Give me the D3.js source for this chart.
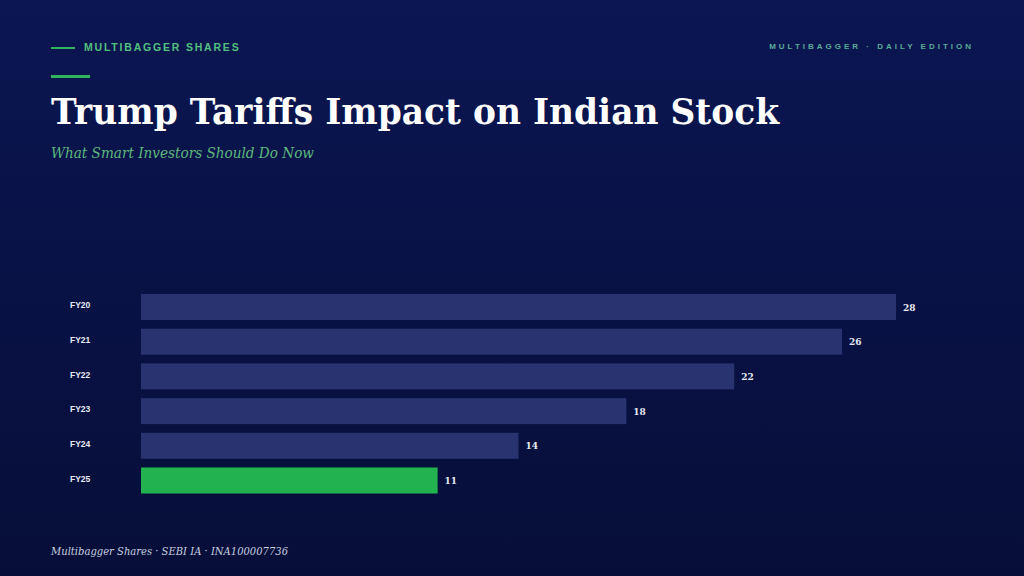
<!DOCTYPE html>
<html lang="en">
<head>
<meta charset="UTF-8">
<title>Trump Tariffs Impact on Indian Stock</title>
<script src="https://d3js.org/d3.v7.min.js"></script>
<style>
  html, body { margin: 0; padding: 0; background: #08113f; }
  svg { display: block; }
</style>
</head>
<body>
<div id="chart"></div>
<script>
const years = ["FY20", "FY21", "FY22", "FY23", "FY24", "FY25"];
const values = [28, 26, 22, 18, 14, 11];
const highlight = "FY25";

const width = 1024, height = 576;

const svg = d3.select("#chart").append("svg")
  .attr("width", width)
  .attr("height", height);

// background gradient
const grad = svg.append("defs").append("linearGradient")
  .attr("id", "bg").attr("x1", 0).attr("y1", 0).attr("x2", 0).attr("y2", 1);
grad.append("stop").attr("offset", "0%").attr("stop-color", "#0b1652");
grad.append("stop").attr("offset", "100%").attr("stop-color", "#060e38");
svg.append("rect").attr("width", width).attr("height", height).attr("fill", "url(#bg)");

// header
svg.append("line")
  .attr("x1", 51).attr("x2", 75).attr("y1", 48).attr("y2", 48)
  .attr("stroke", "#2fb35c").attr("stroke-width", 2);
svg.append("text")
  .attr("x", 84).attr("y", 51)
  .attr("font-family", "Liberation Sans, Arial, sans-serif")
  .attr("font-weight", "bold").attr("font-size", 10.5)
  .attr("letter-spacing", 1.8)
  .attr("fill", "#52c07e")
  .text("MULTIBAGGER SHARES");

svg.append("text")
  .attr("x", 974).attr("y", 49).attr("text-anchor", "end")
  .attr("font-family", "Liberation Sans, Arial, sans-serif")
  .attr("font-weight", "bold").attr("font-size", 8)
  .attr("letter-spacing", 3)
  .attr("fill", "#5aab98")
  .text("MULTIBAGGER · DAILY EDITION");

svg.append("line")
  .attr("x1", 51).attr("x2", 90).attr("y1", 76.5).attr("y2", 76.5)
  .attr("stroke", "#2fb35c").attr("stroke-width", 3);

// title
svg.append("text")
  .attr("x", 51).attr("y", 124)
  .attr("font-family", "DejaVu Serif, Georgia, serif")
  .attr("font-weight", "bold").attr("font-size", 35)
  .attr("fill", "#ffffff")
  .attr("textLength", 728).attr("lengthAdjust", "spacingAndGlyphs")
  .text("Trump Tariffs Impact on Indian Stock");

svg.append("text")
  .attr("x", 51).attr("y", 158)
  .attr("font-family", "DejaVu Serif, Georgia, serif")
  .attr("font-style", "italic").attr("font-size", 14.5)
  .attr("fill", "#5cb97c")
  .attr("textLength", 263).attr("lengthAdjust", "spacingAndGlyphs")
  .text("What Smart Investors Should Do Now");

// bars
const x = d3.scaleLinear().domain([0, 28]).range([141, 896]);
const y = d3.scaleBand().domain(years).range([294, 493.5]).paddingInner(0.25).paddingOuter(0);

const data = years.map((yr, i) => ({ year: yr, value: values[i] }));

svg.selectAll(".bar")
  .data(data)
  .join("rect")
  .attr("class", "bar")
  .attr("x", x(0))
  .attr("y", d => y(d.year))
  .attr("width", d => x(d.value) - x(0))
  .attr("height", y.bandwidth())
  .attr("fill", d => d.year === highlight ? "#22b350" : "#283370");

svg.selectAll(".yl")
  .data(data)
  .join("text")
  .attr("class", "yl")
  .attr("x", 70)
  .attr("y", d => y(d.year) + y.bandwidth() / 2 - 1)
  .attr("dominant-baseline", "middle")
  .attr("font-family", "Liberation Sans, Arial, sans-serif")
  .attr("font-weight", "bold").attr("font-size", 8.5)
  .attr("fill", "#e6e9f3")
  .text(d => d.year);

svg.selectAll(".vl")
  .data(data)
  .join("text")
  .attr("class", "vl")
  .attr("x", d => x(d.value) + 7)
  .attr("y", d => y(d.year) + y.bandwidth() / 2 + 1)
  .attr("dominant-baseline", "middle")
  .attr("font-family", "DejaVu Serif, Georgia, serif")
  .attr("font-weight", "bold").attr("font-size", 9)
  .attr("fill", "#e6e9f3")
  .text(d => d.value);

// footer
svg.append("text")
  .attr("x", 51).attr("y", 555)
  .attr("font-family", "DejaVu Serif, Georgia, serif")
  .attr("font-style", "italic").attr("font-size", 11.5)
  .attr("fill", "#c9cee0")
  .attr("textLength", 237).attr("lengthAdjust", "spacingAndGlyphs")
  .text("Multibagger Shares · SEBI IA · INA100007736");
</script>
</body>
</html>
